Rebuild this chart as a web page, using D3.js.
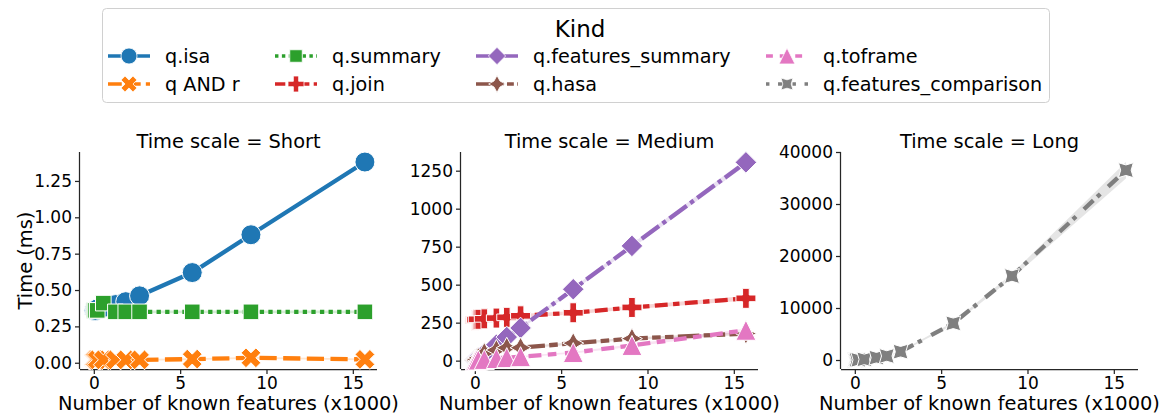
<!DOCTYPE html>
<html>
<head>
<meta charset="utf-8">
<script src="https://cdn.jsdelivr.net/npm/d3@7"></script>
<style>
  html, body { margin: 0; padding: 0; background: #fff; }
  svg { display: block; font-family: "DejaVu Sans", sans-serif; }
</style>
</head>
<body>
<svg id="chart" width="1160" height="414"></svg>
<script>
// Number of known features (thousands) at which each query was timed
const features = [0.01, 0.05, 0.1, 0.2, 0.55, 1.25, 1.85, 2.65, 5.7, 9.1, 15.7];

// Mean time per query kind (ms)
const isaMs          = [0.36, 0.36, 0.36, 0.37, 0.38, 0.40, 0.42, 0.46, 0.62, 0.88, 1.38];
const andMs          = [0.02, 0.02, 0.02, 0.02, 0.02, 0.02, 0.02, 0.02, 0.025, 0.034, 0.023];
const summaryMs      = [0.36, 0.36, 0.36, 0.36, 0.41, 0.35, 0.35, 0.35, 0.35, 0.35, 0.35];
const joinMs         = [265, 268, 270, 272, 275, 280, 285, 295, 315, 350, 410];
const featSummaryMs  = [2, 4, 8, 17, 45, 105, 155, 215, 470, 755, 1305];
const hasaMs         = [3, 5, 10, 18, 50, 70, 85, 85, 115, 145, 178];
const toframeMs      = [0, 1, 2, 4, 8, 14, 20, 26, 53, 100, 200];
const featCompareMs  = [2, 5, 15, 30, 120, 450, 770, 1600, 7050, 16150, 36500];

// Half-width of the 95% confidence band for each kind (ms)
const isaCi          = [0.01, 0.01, 0.01, 0.01, 0.01, 0.01, 0.01, 0.01, 0.01, 0.01, 0.015];
const andCi          = [0.006, 0.006, 0.006, 0.006, 0.006, 0.006, 0.006, 0.006, 0.006, 0.006, 0.006];
const summaryCi      = [0.01, 0.01, 0.01, 0.01, 0.01, 0.01, 0.01, 0.01, 0.01, 0.01, 0.01];
const joinCi         = [12, 12, 12, 12, 12, 12, 12, 12, 12, 12, 15];
const featSummaryCi  = [3, 3, 3, 4, 5, 6, 8, 10, 12, 15, 20];
const hasaCi         = [4, 4, 4, 4, 5, 5, 6, 6, 8, 8, 10];
const toframeCi      = [4, 4, 4, 4, 4, 5, 5, 5, 6, 8, 12];
const featCompareCi  = [20, 20, 30, 40, 60, 100, 120, 150, 250, 450, 1600];

const kindNames = ["q.isa", "q AND r", "q.summary", "q.join",
                   "q.features_summary", "q.hasa", "q.toframe", "q.features_comparison"];
const kindColors = ["#1f77b4", "#ff7f0e", "#2ca02c", "#d62728",
                    "#9467bd", "#8c564b", "#e377c2", "#7f7f7f"];
const kindValues = [isaMs, andMs, summaryMs, joinMs, featSummaryMs, hasaMs, toframeMs, featCompareMs];
const kindCi = [isaCi, andCi, summaryCi, joinCi, featSummaryCi, hasaCi, toframeCi, featCompareCi];

const panelTitles = ["Time scale = Short", "Time scale = Medium", "Time scale = Long"];
const panelKinds = [[0, 1, 2], [3, 4, 5, 6], [7]];
const panelYTicks = [
  [0, 0.25, 0.5, 0.75, 1.0, 1.25],
  [0, 250, 500, 750, 1000, 1250],
  [0, 10000, 20000, 30000, 40000]
];
const xTicks = [0, 5, 10, 15];

// ---- layout ----
const svg = d3.select("#chart");
const LW = 4.3;                       // line width
const dashUnits = [null, [4, 1.5], [1, 1], [3, 1.25, 1.5, 1.25],
                   [5, 1, 1, 1], [5, 1, 2, 1, 2, 1], [2, 2, 3, 1.5], [1, 2.5, 3, 1.2]];
const markerKinds = ["circle", "x", "square", "plus", "diamond", "star", "triangle", "starx"];

const panelLeft = [80, 461, 841];
const panelW = 297;
const plotTop = 152, plotBottom = 369;
const yDomains = [[-0.043, 1.449], [-55, 1373], [-1730, 40000]];
const yFormats = [d3.format(".2f"), d3.format("d"), d3.format("d")];
const xDomain = [-0.8, 16.4];

function markerPath(kind, s) {
  const r = s / 2;
  switch (kind) {
    case "circle":
      return d3.symbol(d3.symbolCircle, Math.PI * r * r)();
    case "square": {
      const h = r * 0.78;
      return `M${-h},${-h}L${h},${-h}L${h},${h}L${-h},${h}Z`;
    }
    case "diamond": {
      const h = r * 1.08;
      return `M0,${-h}L${h},0L0,${h}L${-h},0Z`;
    }
    case "plus":
    case "x": {
      const a = r, t = r / 3;
      let pts = [[-t, -a], [t, -a], [t, -t], [a, -t], [a, t], [t, t], [t, a], [-t, a],
                 [-t, t], [-a, t], [-a, -t], [-t, -t]];
      if (kind === "x") {
        const c = Math.SQRT1_2;
        pts = pts.map(([px, py]) => [(px - py) * c * 1.05, (px + py) * c * 1.05]);
      }
      return "M" + pts.map(p => p.join(",")).join("L") + "Z";
    }
    case "triangle":
      return `M0,${-r}L${r},${r}L${-r},${r}Z`;
    case "star":
    case "starx": {
      const off = kind === "starx" ? Math.PI / 4 : 0;
      const R = r * 1.05, ri = R * 0.5;
      const pts = [];
      for (let i = 0; i < 8; i++) {
        const ang = off + i * Math.PI / 4 - Math.PI / 2;
        const rr = i % 2 === 0 ? R : ri;
        pts.push([rr * Math.cos(ang), rr * Math.sin(ang)]);
      }
      return "M" + pts.map(p => p.map(v => v.toFixed(2)).join(",")).join("L") + "Z";
    }
  }
}

function dashFor(k, w) {
  return dashUnits[k] ? dashUnits[k].map(v => v * w).join(",") : null;
}

const tickFont = 17;
const labelFont = 19.4;

panelTitles.forEach((title, pi) => {
  const x = d3.scaleLinear().domain(xDomain).range([panelLeft[pi], panelLeft[pi] + panelW]);
  const y = d3.scaleLinear().domain(yDomains[pi]).range([plotBottom, plotTop]);
  const g = svg.append("g");

  // axes
  const xAxis = g.append("g")
    .attr("transform", `translate(0,${plotBottom})`)
    .call(d3.axisBottom(x).tickValues(xTicks).tickSize(5).tickPadding(3).tickFormat(d3.format("d")));
  const yAxis = g.append("g")
    .attr("transform", `translate(${panelLeft[pi]},0)`)
    .call(d3.axisLeft(y).tickValues(panelYTicks[pi]).tickSize(5).tickPadding(3).tickFormat(yFormats[pi]));
  [xAxis, yAxis].forEach(ax => {
    ax.selectAll("text").attr("font-size", tickFont).attr("fill", "#000")
      .attr("font-family", "DejaVu Sans, sans-serif");
    ax.selectAll("line").attr("stroke", "#262626").attr("stroke-width", 1.25);
    ax.select(".domain").attr("stroke", "#262626").attr("stroke-width", 1.25);
  });
  // plain spines without end caps
  xAxis.select(".domain").attr("d", `M${panelLeft[pi]},0.5H${panelLeft[pi] + panelW}`);
  yAxis.select(".domain").attr("d", `M-0.5,${plotTop}V${plotBottom}`);

  // title
  g.append("text")
    .attr("x", panelLeft[pi] + panelW / 2).attr("y", 148)
    .attr("text-anchor", "middle").attr("font-size", labelFont).text(title);
  // x label
  g.append("text")
    .attr("x", panelLeft[pi] + panelW / 2).attr("y", 410)
    .attr("text-anchor", "middle").attr("font-size", labelFont)
    .text("Number of known features (x1000)");

  const plot = g.append("g");

  panelKinds[pi].forEach(k => {
    const pts = features.map((f, i) => ({ f, v: kindValues[k][i], ci: kindCi[k][i] }));
    const area = d3.area().x(d => x(d.f)).y0(d => y(d.v - d.ci)).y1(d => y(d.v + d.ci));
    plot.append("path").attr("d", area(pts)).attr("fill", kindColors[k]).attr("fill-opacity", 0.2);
  });
  panelKinds[pi].forEach(k => {
    const pts = features.map((f, i) => ({ f, v: kindValues[k][i] }));
    const line = d3.line().x(d => x(d.f)).y(d => y(d.v));
    plot.append("path").attr("d", line(pts))
      .attr("fill", "none").attr("stroke", kindColors[k]).attr("stroke-width", LW)
      .attr("stroke-dasharray", dashFor(k, LW));
    plot.selectAll(null).data(pts).enter().append("path")
      .attr("transform", d => `translate(${x(d.f)},${y(d.v)})`)
      .attr("d", markerPath(markerKinds[k], 20))
      .attr("fill", kindColors[k]).attr("stroke", "#fff").attr("stroke-width", 1);
  });
});

// y label
svg.append("text")
  .attr("transform", `translate(32,${(plotTop + plotBottom) / 2}) rotate(-90)`)
  .attr("text-anchor", "middle").attr("font-size", labelFont).text("Time (ms)");

// ---- legend ----
const legend = svg.append("g");
legend.append("rect")
  .attr("x", 102.5).attr("y", 8.5).attr("width", 947).attr("height", 94)
  .attr("rx", 4).attr("fill", "#fff").attr("stroke", "#d0d0d0").attr("stroke-width", 1);
legend.append("text").attr("x", 580).attr("y", 37).attr("text-anchor", "middle")
  .attr("font-size", 23).text("Kind");
const legendTextX = [165, 332, 533, 823];
const legendRowY = [56, 84];
kindNames.forEach((name, k) => {
  const col = Math.floor(k / 2), row = k % 2;
  const tx = legendTextX[col], cy = legendRowY[row];
  const x0 = tx - 57, x1 = tx - 15;
  legend.append("line").attr("x1", x0).attr("x2", x1).attr("y1", cy).attr("y2", cy)
    .attr("stroke", kindColors[k]).attr("stroke-width", LW * 0.8)
    .attr("stroke-dasharray", dashFor(k, LW * 0.8));
  legend.append("path").attr("transform", `translate(${(x0 + x1) / 2},${cy})`)
    .attr("d", markerPath(markerKinds[k], 16))
    .attr("fill", kindColors[k]).attr("stroke", "#fff").attr("stroke-width", 0.8);
  legend.append("text").attr("x", tx).attr("y", cy + 7).attr("font-size", 19.2).text(name);
});
</script>
</body>
</html>
